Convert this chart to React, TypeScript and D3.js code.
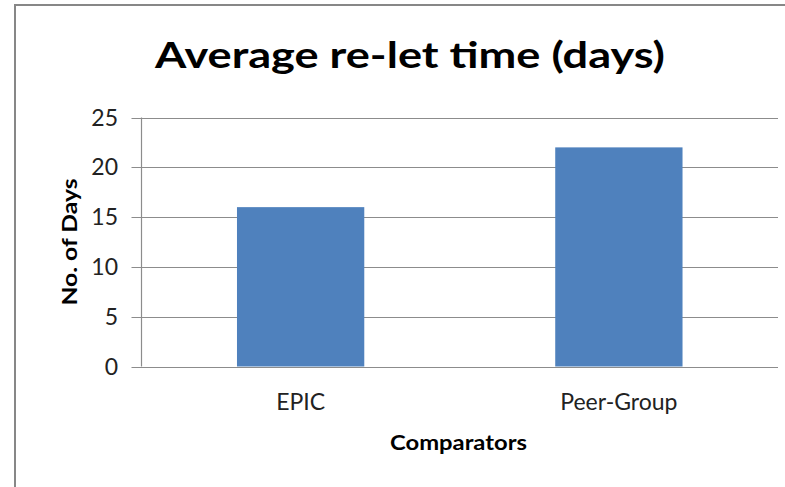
import React from "react";
import * as d3 from "d3";

const categories = ["EPIC", "Peer-Group"];
const values = [16, 22];
const yTicks = [0, 5, 10, 15, 20, 25];
const title = "Average re-let time (days)";
const xTitle = "Comparators";
const yTitle = "No. of Days";

const W = 785;
const H = 487;
const plot = { left: 141.5, right: 778, top: 117.5, bottom: 366.5 };
const FONT = "Lato, 'Open Sans', sans-serif";

export default function App() {
  const x = d3
    .scaleBand<string>()
    .domain(categories)
    .range([plot.left, plot.right])
    .paddingInner(0.6)
    .paddingOuter(0.3);
  const y = d3.scaleLinear().domain([0, 25]).range([plot.bottom, plot.top]);
  const band = d3.scaleBand<string>().domain(categories).range([plot.left, plot.right]);

  return (
    <svg
      width={W}
      height={H}
      style={{ position: "absolute", left: 0, top: 0, background: "#fff" }}
    >
      <rect x={0} y={0} width={W} height={H} fill="#fff" />
      <line x1={15} y1={5} x2={15} y2={H} stroke="#878787" strokeWidth={2} />
      <line x1={14} y1={5} x2={W} y2={5} stroke="#878787" strokeWidth={2} />
      <text
        x={410}
        y={68}
        textAnchor="middle"
        fontFamily={FONT}
        fontWeight="bold"
        fontSize={37}
        textLength={510}
        lengthAdjust="spacingAndGlyphs"
        fill="#000"
      >
        {title}
      </text>
      {yTicks.map((t) => (
        <g key={t}>
          <line
            x1={plot.left - 10}
            x2={plot.right}
            y1={Math.round(y(t)) + 0.5}
            y2={Math.round(y(t)) + 0.5}
            stroke="#8c8c8c"
            strokeWidth={1.2}
          />
          <text
            x={118}
            y={y(t) + 8}
            textAnchor="end"
            fontFamily={FONT}
            fontSize={23}
            fill="#222"
          >
            {t}
          </text>
        </g>
      ))}
      <line
        x1={plot.left}
        x2={plot.left}
        y1={plot.top}
        y2={plot.bottom}
        stroke="#8c8c8c"
        strokeWidth={1.2}
      />
      {categories.map((c, i) => (
        <g key={c}>
          <rect
            x={x(c)}
            y={y(values[i])}
            width={x.bandwidth()}
            height={plot.bottom - y(values[i])}
            fill="#4F81BD"
          />
          <text
            x={(band(c) as number) + band.bandwidth() / 2}
            y={410}
            textAnchor="middle"
            fontFamily={FONT}
            fontSize={23}
            fill="#222"
          >
            {c}
          </text>
        </g>
      ))}
      <text
        x={458.5}
        y={450}
        textAnchor="middle"
        fontFamily={FONT}
        fontWeight="bold"
        fontSize={21}
        textLength={137}
        lengthAdjust="spacingAndGlyphs"
        fill="#000"
      >
        {xTitle}
      </text>
      <text
        transform={`translate(77, 242) rotate(-90)`}
        textAnchor="middle"
        fontFamily={FONT}
        fontWeight="bold"
        fontSize={21}
        textLength={127}
        lengthAdjust="spacingAndGlyphs"
        fill="#000"
      >
        {yTitle}
      </text>
    </svg>
  );
}
